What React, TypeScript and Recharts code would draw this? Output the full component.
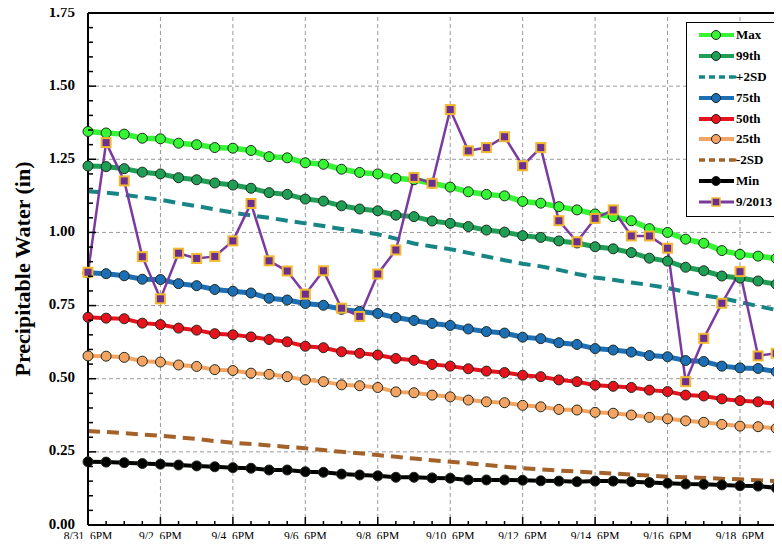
import { Line, LineChart, ReferenceLine, XAxis, YAxis } from 'recharts'

// one value every 12 hours, starting 8/31 6PM
const maxVals = [1.345, 1.34, 1.336, 1.322, 1.32, 1.305, 1.3, 1.29, 1.288, 1.28, 1.259, 1.255, 1.238, 1.233, 1.216, 1.205, 1.2, 1.185, 1.18, 1.168, 1.155, 1.139, 1.13, 1.125, 1.106, 1.1, 1.088, 1.077, 1.063, 1.054, 1.04, 1.013, 1.0, 0.977, 0.963, 0.938, 0.925, 0.919, 0.911]
const p99Vals = [1.227, 1.225, 1.218, 1.206, 1.2, 1.187, 1.18, 1.169, 1.162, 1.151, 1.136, 1.13, 1.114, 1.107, 1.091, 1.08, 1.074, 1.059, 1.054, 1.039, 1.031, 1.02, 1.008, 1.001, 0.989, 0.983, 0.971, 0.964, 0.951, 0.944, 0.931, 0.912, 0.902, 0.881, 0.869, 0.851, 0.844, 0.834, 0.823]
const plus2sdVals = [1.141, 1.136, 1.129, 1.12, 1.112, 1.1, 1.09, 1.079, 1.068, 1.058, 1.05, 1.04, 1.031, 1.022, 1.012, 1.003, 0.994, 0.979, 0.962, 0.952, 0.943, 0.93, 0.918, 0.905, 0.893, 0.884, 0.872, 0.858, 0.846, 0.838, 0.829, 0.82, 0.81, 0.797, 0.785, 0.775, 0.762, 0.748, 0.735]
const p75Vals = [0.862, 0.859, 0.852, 0.84, 0.839, 0.825, 0.818, 0.805, 0.799, 0.793, 0.775, 0.769, 0.757, 0.751, 0.737, 0.73, 0.723, 0.709, 0.699, 0.689, 0.682, 0.67, 0.661, 0.656, 0.642, 0.637, 0.623, 0.617, 0.603, 0.598, 0.591, 0.579, 0.575, 0.562, 0.559, 0.543, 0.537, 0.535, 0.524]
const p50Vals = [0.71, 0.707, 0.705, 0.69, 0.685, 0.673, 0.666, 0.654, 0.65, 0.643, 0.634, 0.626, 0.611, 0.606, 0.592, 0.587, 0.581, 0.569, 0.563, 0.549, 0.543, 0.534, 0.526, 0.521, 0.512, 0.507, 0.496, 0.49, 0.478, 0.474, 0.47, 0.461, 0.456, 0.444, 0.441, 0.431, 0.425, 0.421, 0.414]
const p25Vals = [0.578, 0.577, 0.573, 0.56, 0.557, 0.547, 0.542, 0.531, 0.528, 0.519, 0.515, 0.507, 0.496, 0.49, 0.479, 0.476, 0.47, 0.455, 0.452, 0.444, 0.438, 0.427, 0.421, 0.418, 0.409, 0.404, 0.395, 0.393, 0.385, 0.382, 0.376, 0.368, 0.363, 0.356, 0.351, 0.344, 0.338, 0.336, 0.33]
const minus2sdVals = [0.321, 0.318, 0.314, 0.309, 0.305, 0.3, 0.294, 0.287, 0.281, 0.277, 0.272, 0.267, 0.262, 0.256, 0.25, 0.245, 0.239, 0.233, 0.227, 0.221, 0.216, 0.211, 0.205, 0.199, 0.194, 0.19, 0.186, 0.183, 0.179, 0.176, 0.172, 0.169, 0.165, 0.163, 0.161, 0.158, 0.156, 0.153, 0.15]
const minVals = [0.216, 0.215, 0.213, 0.21, 0.208, 0.205, 0.202, 0.199, 0.196, 0.194, 0.188, 0.188, 0.182, 0.18, 0.174, 0.171, 0.168, 0.163, 0.163, 0.161, 0.16, 0.154, 0.154, 0.154, 0.153, 0.151, 0.15, 0.148, 0.15, 0.15, 0.148, 0.145, 0.143, 0.14, 0.139, 0.137, 0.134, 0.133, 0.127]
const sep2013Vals = [0.864, 1.307, 1.176, 0.917, 0.773, 0.929, 0.911, 0.918, 0.971, 1.099, 0.903, 0.868, 0.789, 0.869, 0.741, 0.713, 0.858, 0.94, 1.188, 1.168, 1.42, 1.279, 1.29, 1.327, 1.228, 1.29, 1.04, 0.968, 1.048, 1.077, 0.988, 0.988, 0.946, 0.49, 0.638, 0.758, 0.866, 0.578, 0.587]

const xLabels = ['8/31, 6PM', '9/2, 6PM', '9/4, 6PM', '9/6, 6PM', '9/8, 6PM', '9/10, 6PM', '9/12, 6PM', '9/14, 6PM', '9/16, 6PM', '9/18, 6PM']
const yLabels = [0, 0.25, 0.5, 0.75, 1.0, 1.25, 1.5, 1.75]

const data = maxVals.map((v, i) => ({
  n: i,
  max: v,
  p99: p99Vals[i],
  plus2sd: plus2sdVals[i],
  p75: p75Vals[i],
  p50: p50Vals[i],
  p25: p25Vals[i],
  minus2sd: minus2sdVals[i],
  min: minVals[i],
  sep2013: sep2013Vals[i],
}))

const xTicks = data.map(d => d.n)
const xMajor = xLabels.map((_, i) => i * 4)
const yTicks: number[] = []
yLabels.forEach((v, i) => {
  if (i === 0) { yTicks.push(v); return }
  for (let k = 4; k >= 0; k--) yTicks.push(+(v - k * 0.05).toFixed(2))
})
const yTicksU = Array.from(new Set(yTicks))

const FONT = '"Liberation Serif", "Times New Roman", serif'

const series = [
  { key: 'max', name: 'Max', color: '#35f535', width: 5.5, dot: '#35f535', dash: '' },
  { key: 'p99', name: '99th', color: '#1f9e55', width: 5, dot: '#1f9e55', dash: '' },
  { key: 'plus2sd', name: '+2SD', color: '#178585', width: 4, dot: '', dash: '12 7' },
  { key: 'p75', name: '75th', color: '#1d6fb5', width: 5, dot: '#1d6fb5', dash: '' },
  { key: 'p50', name: '50th', color: '#e8121c', width: 4, dot: '#e8121c', dash: '' },
  { key: 'p25', name: '25th', color: '#f4a462', width: 4, dot: '#f4a462', dash: '' },
  { key: 'minus2sd', name: '-2SD', color: '#a4622a', width: 4, dot: '', dash: '12 7' },
  { key: 'min', name: 'Min', color: '#000000', width: 4, dot: '#000000', dash: '' },
]

const XTick = (props: any) => {
  const { x, y, payload } = props
  const major = payload.value % 4 === 0
  return (
    <g>
      <line x1={x} x2={x} y1={y} y2={y - (major ? 8 : 4)} stroke='#000' strokeWidth={1.5} />
      {major && (
        <text x={x} y={y + 15} textAnchor='middle' fontFamily={FONT} fontSize={11.5} fill='#000'>
          {xLabels[payload.value / 4]}
        </text>
      )}
    </g>
  )
}

const YTick = (props: any) => {
  const { x, y, payload } = props
  const v = payload.value
  const major = Math.abs(v * 4 - Math.round(v * 4)) < 1e-6
  return (
    <g>
      <line x1={x} x2={x + (major ? 8 : 5)} y1={y} y2={y} stroke='#000' strokeWidth={1.5} />
      {major && (
        <text x={x - 13} y={y + 3.5} textAnchor='end' fontFamily={FONT} fontSize={15} fontWeight='bold' fill='#000'>
          {v.toFixed(2)}
        </text>
      )}
    </g>
  )
}

const SquareDot = (props: any) => {
  const { cx, cy, index } = props
  if (cx == null || cy == null) return <g key={index} />
  return <rect key={index} x={cx - 4.5} y={cy - 4.5} width={9} height={9} fill='#6b2f8f' stroke='#f2b830' strokeWidth={2} />
}

const LegendBox = () => {
  const rows = [...series.map(s => ({ ...s, square: false })), { key: 'sep2013', name: '9/2013', color: '#7a3aa0', width: 3, dot: '#6b2f8f', dash: '', square: true }]
  return (
    <div style={{ position: 'absolute', left: 686, top: 22, border: '1.5px solid #000', background: '#fff', width: 96, padding: '2px 0 4px 0', fontFamily: FONT, boxSizing: 'border-box' }}>
      {rows.map(r => (
        <div key={r.key} style={{ display: 'flex', alignItems: 'center', height: 20.8 }}>
          <svg width={40} height={14} style={{ marginLeft: 11 }}>
            <line x1={1} x2={36} y1={7} y2={7} stroke={r.color} strokeWidth={r.dash ? 3.5 : Math.min(r.width, 4)} strokeDasharray={r.dash ? '6 4' : undefined} />
            {r.dash && <circle cx={37} cy={7} r={1.8} fill={r.color} />}
            {!r.dash && !r.square && <circle cx={18} cy={7} r={4.5} fill={r.dot} stroke='#222' strokeWidth={1} />}
            {r.square && <rect x={14} y={3} width={8} height={8} fill={r.dot} stroke='#f2b830' strokeWidth={1.5} />}
          </svg>
          <span style={{ fontWeight: 'bold', fontSize: 13, color: '#000', marginLeft: -2 }}>{r.name}</span>
        </div>
      ))}
    </div>
  )
}

const App = () => {
  return (
    <div style={{ margin: -8, width: 782, height: 547, background: '#fff', position: 'relative' }}>
      <LineChart width={782} height={547} data={data} margin={{ top: 13, right: 0, bottom: 0, left: 0 }}>
        <XAxis
          dataKey='n'
          type='number'
          domain={[0, 38.32]}
          ticks={xTicks}
          interval={0}
          tick={<XTick />}
          tickLine={false}
          tickSize={0}
          tickMargin={0}
          height={22}
          axisLine={{ stroke: '#000', strokeWidth: 2 }}
        />
        <YAxis
          type='number'
          domain={[0, 1.75]}
          ticks={yTicksU}
          interval={0}
          tick={<YTick />}
          tickLine={false}
          tickSize={0}
          tickMargin={0}
          width={88}
          axisLine={{ stroke: '#000', strokeWidth: 2 }}
          label={{ value: 'Precipitable Water (in)', angle: -90, position: 'insideLeft', offset: 22, style: { fontFamily: FONT, fontSize: 22, fontWeight: 'bold', fill: '#000', textAnchor: 'middle' } }}
        />
        {yLabels.slice(1, -1).map(v => (
          <ReferenceLine key={'gy' + v} y={v} stroke='#9a9a9a' strokeDasharray='4 3' strokeWidth={1} />
        ))}
        {xMajor.slice(1).map(v => (
          <ReferenceLine key={'gx' + v} x={v} stroke='#9a9a9a' strokeDasharray='4 3' strokeWidth={1} />
        ))}
        <ReferenceLine y={1.75} stroke='#000' strokeWidth={2} />
        {series.slice().reverse().map(s => (
          <Line
            key={s.key}
            dataKey={s.key}
            name={s.name}
            stroke={s.color}
            strokeWidth={s.width}
            strokeDasharray={s.dash || undefined}
            type='linear'
            dot={s.dot ? { r: 5, fill: s.dot, stroke: '#1e2a1e', strokeWidth: 1 } : false}
            activeDot={false}
            isAnimationActive={false}
          />
        ))}
        <Line
          dataKey='sep2013'
          name='9/2013'
          stroke='#7a3aa0'
          strokeWidth={2.5}
          type='linear'
          dot={<SquareDot />}
          activeDot={false}
          isAnimationActive={false}
        />
      </LineChart>
      <LegendBox />
    </div>
  )
}

export default App
